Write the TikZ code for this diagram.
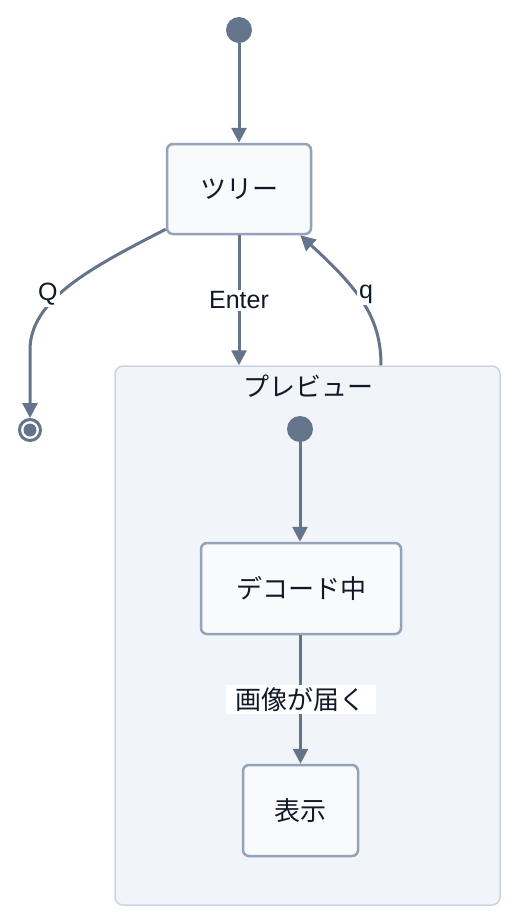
\documentclass[tikz,border=0pt]{standalone}
\usepackage{fontspec}
\setmainfont{Liberation Sans}
\newfontfamily\jpfont{Noto Sans CJK JP}
\usetikzlibrary{arrows.meta}
\definecolor{edgegray}{HTML}{64748B}
\definecolor{boxline}{HTML}{94A3B8}
\definecolor{boxfill}{HTML}{F8FAFC}
\definecolor{groupfill}{HTML}{F1F5F9}
\definecolor{groupline}{HTML}{CBD5E1}
\definecolor{inkcol}{HTML}{111827}
\begin{document}
\begin{tikzpicture}[x=1pt,y=-1pt,
   state/.style={rectangle,draw=boxline,fill=boxfill,line width=2.5pt,
    rounded corners=6pt,inner sep=0pt,text=inkcol,
    font=\jpfont\fontsize{26}{30}\selectfont},
   group/.style={rectangle,draw=groupline,fill=groupfill,line width=1.5pt,
    rounded corners=8pt,minimum width=385pt,minimum height=539pt},
   dot/.style={circle,fill=edgegray,inner sep=0pt,minimum size=26pt},
   edge/.style={draw=edgegray,line width=3pt,
    -{Triangle[length=15pt,width=15pt]}},
   lbl/.style={fill=white,inner sep=2pt,text=inkcol,
    font=\fontsize{25}{29}\selectfont}
    ]
  \useasboundingbox (0,0) rectangle (517,922);

  % -- composite state
  \node[group] at (307.5,635.5) (preview) {};
  \node[text=inkcol,font=\jpfont\fontsize{26}{30}\selectfont] at (308,386) (ptitle) {プレビュー};

  % -- top level
  \node[dot] at (239,30) (start) {};
  \node[state,minimum width=144pt,minimum height=90pt] at (239,189) (tree) {ツリー};
  \node[circle,draw=edgegray,line width=3pt,fill=white,minimum size=21pt,
    inner sep=0pt] at (30,430) (fin) {};
  \node[circle,fill=edgegray,minimum size=13pt,inner sep=0pt] at (fin) (findot) {};

  % -- inside preview
  \node[dot] at (300,429) (pstart) {};
  \node[state,minimum width=200pt,minimum height=91pt] at (301,588.5) (decode) {デコード中};
  \node[state,minimum width=115pt,minimum height=91pt] at (300.5,810.5) (show) {表示};

  % -- transitions
  \coordinate (qbend) at (30,350);
  \draw[edge] (start) -- (tree.north);
  \draw[edge] ([yshift=6pt]tree.south west) .. controls (90,268) and (30,300) ..
    node[pos=0.6,lbl,xshift=-8pt,yshift=3pt] {Q} (qbend) -- (fin.north);
  \draw[edge] (tree.south) -- node[lbl] {Enter} (tree.south |- preview.north);
  \draw[edge] ([xshift=73.5pt]preview.north) .. controls (381,318) and (360,290) ..
    node[pos=0.55,lbl,xshift=7pt,yshift=3pt] {q} ([xshift=-12pt]tree.south east);
  \draw[edge] (pstart) -- (pstart |- decode.north);
  \draw[edge] (decode.south -| show.north) -- node[lbl,inner xsep=10pt,
    font=\jpfont\fontsize{26}{30}\selectfont] {画像が届く} (show.north);

\end{tikzpicture}
\end{document}
